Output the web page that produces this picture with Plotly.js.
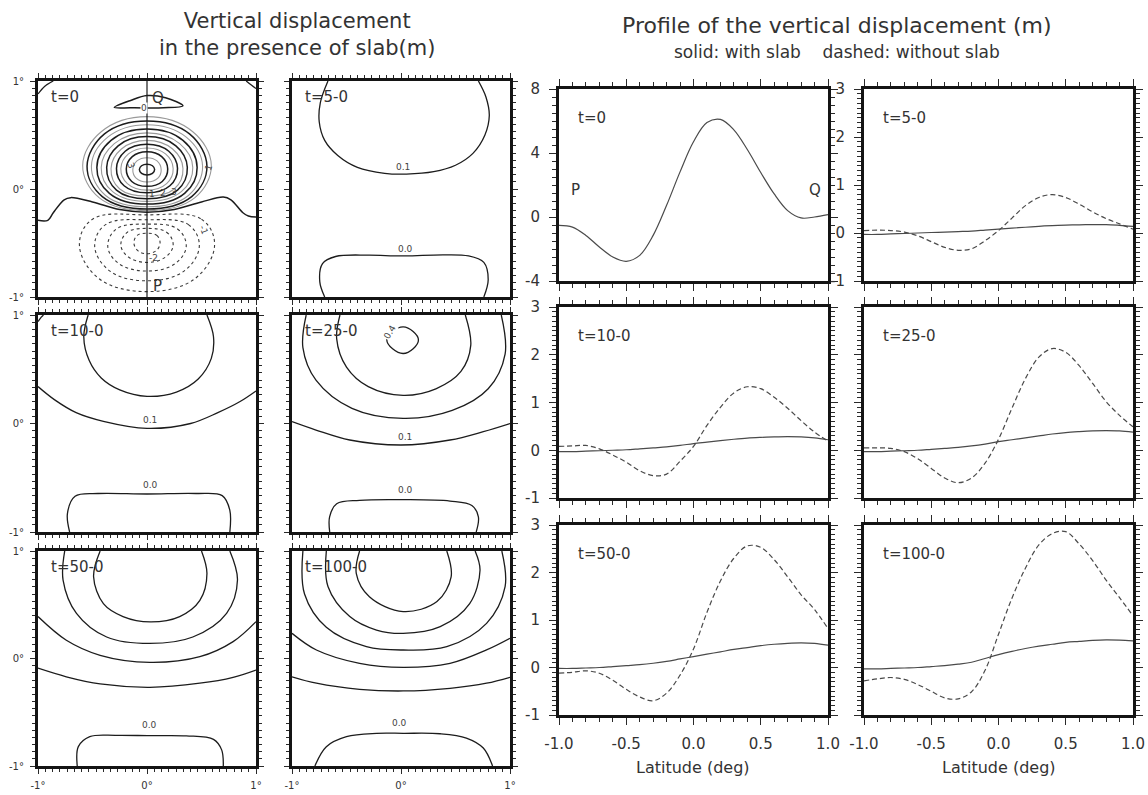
<!DOCTYPE html>
<html>
<head>
<meta charset="utf-8">
<script src="https://cdn.plot.ly/plotly-3.0.1.min.js"></script>
<style>
  html, body { margin: 0; padding: 0; background: #fff; }
  #chart { width: 1148px; height: 795px; }
</style>
</head>
<body>
<div id="chart"></div>
<script>
// ---------------------------------------------------------------
// Profiles along the P-Q line (latitude in degrees, displacement in m)
// ---------------------------------------------------------------
const latitude = [-1.0,-0.9,-0.8,-0.7,-0.6,-0.5,-0.4,-0.3,-0.2,-0.1,0.0,0.1,0.2,0.3,0.4,0.5,0.6,0.7,0.8,0.9,1.0];

const profileT0 = [-0.52,-0.63,-1.15,-1.88,-2.5,-2.77,-2.4,-1.15,0.73,2.82,4.7,5.9,6.1,5.45,4.22,2.78,1.44,0.4,-0.06,0.0,0.15];

const slabT5    = [-0.03,-0.03,-0.02,-0.01,0.0,0.01,0.02,0.03,0.04,0.06,0.08,0.1,0.12,0.14,0.155,0.165,0.17,0.175,0.175,0.16,0.14];
const noSlabT5  = [0.05,0.06,0.05,0.02,-0.06,-0.18,-0.3,-0.36,-0.33,-0.16,0.05,0.31,0.57,0.74,0.8,0.74,0.6,0.44,0.3,0.19,0.08];

const slabT10   = [-0.03,-0.03,-0.02,-0.01,0.0,0.01,0.03,0.05,0.07,0.1,0.14,0.17,0.2,0.23,0.255,0.27,0.28,0.285,0.28,0.26,0.22];
const noSlabT10 = [0.08,0.09,0.1,0.03,-0.1,-0.25,-0.43,-0.53,-0.5,-0.23,0.08,0.52,0.9,1.2,1.33,1.29,1.11,0.88,0.62,0.38,0.19];

const slabT25   = [-0.03,-0.03,-0.02,-0.01,0.0,0.02,0.04,0.06,0.09,0.13,0.18,0.22,0.26,0.3,0.34,0.37,0.39,0.405,0.41,0.405,0.38];
const noSlabT25 = [0.05,0.05,0.04,-0.03,-0.18,-0.38,-0.58,-0.68,-0.58,-0.27,0.23,0.88,1.5,1.95,2.13,2.05,1.77,1.4,1.02,0.73,0.49];

const slabT50   = [-0.02,-0.02,-0.01,0.0,0.02,0.04,0.06,0.09,0.13,0.18,0.23,0.28,0.33,0.38,0.42,0.46,0.49,0.51,0.52,0.51,0.47];
const noSlabT50 = [-0.12,-0.1,-0.07,-0.12,-0.27,-0.46,-0.62,-0.7,-0.54,-0.16,0.39,1.16,1.82,2.3,2.56,2.53,2.27,1.91,1.53,1.22,0.82];

const slabT100   = [-0.03,-0.03,-0.02,-0.01,0.0,0.02,0.04,0.07,0.11,0.19,0.27,0.34,0.4,0.45,0.49,0.53,0.55,0.57,0.58,0.575,0.56];
const noSlabT100 = [-0.28,-0.24,-0.21,-0.25,-0.36,-0.5,-0.64,-0.66,-0.51,-0.06,0.7,1.46,2.09,2.58,2.82,2.86,2.6,2.25,1.84,1.47,1.09];

// ---------------------------------------------------------------
// Contour lines of the map panels, as (x, y) points in degrees
// ---------------------------------------------------------------
// t=0: closed positive contours (right half, top to bottom; the field is symmetric about x=0)
const upliftLevels = [0.5,1,1.5,2,2.5,3,3.5,4,4.5,5,5.5,6];
const upliftHalves = [
  [[0,0.67],[0.42,0.53],[0.59,0.22],[0.44,-0.08],[0,-0.2]],
  [[0,0.63],[0.39,0.51],[0.55,0.21],[0.41,-0.07],[0,-0.185]],
  [[0,0.595],[0.36,0.48],[0.51,0.21],[0.38,-0.06],[0,-0.165]],
  [[0,0.555],[0.33,0.45],[0.46,0.2],[0.345,-0.04],[0,-0.14]],
  [[0,0.52],[0.3,0.42],[0.42,0.2],[0.315,-0.025],[0,-0.115]],
  [[0,0.485],[0.265,0.4],[0.37,0.2],[0.28,-0.01],[0,-0.09]],
  [[0,0.45],[0.235,0.37],[0.33,0.19],[0.25,0.0],[0,-0.065]],
  [[0,0.415],[0.2,0.35],[0.28,0.19],[0.21,0.03],[0,-0.035]],
  [[0,0.38],[0.17,0.325],[0.24,0.19],[0.18,0.05],[0,-0.01]],
  [[0,0.345],[0.135,0.3],[0.19,0.185],[0.14,0.07],[0,0.025]],
  [[0,0.29],[0.092,0.26],[0.13,0.18],[0.1,0.1],[0,0.065]],
  [[0,0.23],[0.05,0.215],[0.07,0.18],[0.05,0.145],[0,0.13]]
];
// t=0: closed negative contours
const subsidenceLevels = [-0.5,-1,-1.5,-2,-2.5];
const subsidenceHalves = [
  [[0,-0.24],[0.5,-0.28],[0.62,-0.52],[0.44,-0.83],[0,-0.95]],
  [[0,-0.285],[0.38,-0.33],[0.48,-0.53],[0.34,-0.76],[0,-0.85]],
  [[0,-0.325],[0.28,-0.37],[0.36,-0.53],[0.26,-0.69],[0,-0.76]],
  [[0,-0.365],[0.18,-0.4],[0.24,-0.52],[0.17,-0.63],[0,-0.68]],
  [[0,-0.41],[0.09,-0.43],[0.12,-0.5],[0.085,-0.57],[0,-0.6]]
];
const t0Zero = [[-1,-0.29],[-0.91,-0.29],[-0.86,-0.22],[-0.76,-0.1],[-0.7,-0.08],[-0.5,-0.12],[-0.25,-0.19],[0,-0.215],[0.25,-0.19],[0.5,-0.12],[0.7,-0.075],[0.77,-0.1],[0.88,-0.22],[0.93,-0.25],[1,-0.26]];
const t0ZeroNorth = [[-0.3,0.755],[-0.15,0.82],[0,0.865],[0.17,0.845],[0.33,0.77],[0.15,0.752],[0,0.75],[-0.15,0.752],[-0.3,0.755]];
const t0CornerWest = [[-1,0.88],[-0.94,0.95],[-0.86,1]];
const t0CornerEast = [[0.91,1],[0.96,0.96],[1,0.93]];
const profileLine = [[0,-1],[0,1]];

const t5Level01 = [[-0.67,1.0],[-0.74,0.8],[-0.75,0.62],[-0.7,0.45],[-0.58,0.31],[-0.4,0.2],[-0.15,0.145],[0.05,0.138],[0.3,0.16],[0.5,0.22],[0.66,0.33],[0.77,0.5],[0.81,0.68],[0.78,0.85],[0.71,1.0]];
const t5Level00 = [[-0.7,-1],[-0.745,-0.86],[-0.72,-0.69],[-0.6,-0.625],[-0.3,-0.612],[0.0,-0.62],[0.3,-0.612],[0.62,-0.62],[0.76,-0.68],[0.8,-0.84],[0.76,-1]];

const t10Level02 = [[-0.54,1],[-0.58,0.8],[-0.53,0.58],[-0.42,0.42],[-0.25,0.31],[0.0,0.25],[0.27,0.29],[0.47,0.41],[0.59,0.6],[0.61,0.8],[0.55,1]];
const t10Level01 = [[-1,0.34],[-0.85,0.22],[-0.65,0.1],[-0.4,0.02],[0,-0.045],[0.4,0.0],[0.65,0.1],[0.85,0.2],[1,0.3]];
const t10Level00 = [[-0.71,-1],[-0.73,-0.83],[-0.66,-0.67],[-0.45,-0.645],[0.0,-0.65],[0.45,-0.645],[0.69,-0.665],[0.76,-0.8],[0.76,-1]];
const t10Corner  = [[-1,0.94],[-0.97,0.98],[-0.95,1]];

const t25Level04 = [[0.02,0.89],[0.16,0.77],[0.02,0.645],[-0.13,0.77],[0.02,0.89]];
const t25Level03 = [[-0.56,1],[-0.59,0.78],[-0.5,0.52],[-0.3,0.34],[0.02,0.26],[0.32,0.32],[0.55,0.48],[0.64,0.72],[0.59,1]];
const t25Level02 = [[-0.87,1],[-0.9,0.7],[-0.78,0.4],[-0.45,0.14],[0.02,0.047],[0.47,0.12],[0.8,0.32],[0.955,0.64],[0.92,1]];
const t25Level01 = [[-1,0.017],[-0.78,-0.06],[-0.47,-0.152],[0,-0.198],[0.45,-0.152],[0.755,-0.075],[1,0.0]];
const t25Level00 = [[-0.654,-1],[-0.655,-0.86],[-0.59,-0.74],[-0.38,-0.708],[0.02,-0.702],[0.45,-0.715],[0.65,-0.755],[0.71,-0.86],[0.69,-1]];

const t50Level04 = [[-0.43,1],[-0.49,0.76],[-0.4,0.51],[-0.22,0.39],[0.03,0.34],[0.3,0.39],[0.485,0.54],[0.55,0.79],[0.5,1]];
const t50Level03 = [[-0.755,1],[-0.77,0.73],[-0.647,0.42],[-0.37,0.2],[0.026,0.14],[0.42,0.2],[0.73,0.42],[0.83,0.73],[0.76,1]];
const t50Level02 = [[-1,0.39],[-0.74,0.17],[-0.43,0.03],[0.026,-0.036],[0.485,0.017],[0.79,0.157],[1,0.343]];
const t50Level01 = [[-1,-0.09],[-0.74,-0.17],[-0.43,-0.237],[0.026,-0.268],[0.485,-0.23],[0.79,-0.175],[1,-0.107]];
const t50Level00 = [[-0.64,-1],[-0.63,-0.82],[-0.525,-0.727],[-0.28,-0.715],[0.026,-0.718],[0.36,-0.72],[0.61,-0.752],[0.685,-0.85],[0.7,-1]];

const t100Level05 = [[-0.38,1],[-0.41,0.79],[-0.29,0.575],[0.02,0.436],[0.33,0.53],[0.46,0.76],[0.42,1]];
const t100Level04 = [[-0.685,1],[-0.67,0.67],[-0.47,0.39],[-0.225,0.265],[0.02,0.234],[0.36,0.296],[0.63,0.51],[0.725,0.82],[0.68,1]];
const t100Level03 = [[-0.9,1],[-0.885,0.6],[-0.685,0.29],[-0.317,0.11],[0.02,0.079],[0.42,0.11],[0.785,0.327],[0.955,0.668],[0.925,1]];
const t100Level02 = [[-1,0.234],[-0.776,0.079],[-0.38,-0.045],[0.02,-0.082],[0.45,-0.045],[0.785,0.08],[1,0.188]];
const t100Level01 = [[-1,-0.17],[-0.776,-0.23],[-0.38,-0.287],[0.02,-0.302],[0.45,-0.277],[0.785,-0.23],[1,-0.175]];
const t100Level00 = [[-0.79,-1],[-0.685,-0.82],[-0.5,-0.727],[-0.225,-0.696],[0.02,-0.696],[0.36,-0.7],[0.6,-0.74],[0.755,-0.833],[0.84,-1]];

// Panel captions and tick labels
const panelNames = ['t=0','t=5-0','t=10-0','t=25-0','t=50-0','t=100-0'];
const degTickVals = [-1, 0, 1];
const degTickText = ['-1°', '0°', '1°'];
const latTickVals = [-1, -0.5, 0, 0.5, 1];
const latTickText = ['-1.0', '-0.5', '0.0', '0.5', '1.0'];
const dispTickVals = [-1, 0, 1, 2, 3];
const dispTickText = ['-1', '0', '1', '2', '3'];
const t0TickVals = [-4, 0, 4, 8];
const t0TickText = ['-4', '0', '4', '8'];

// ---------------------------------------------------------------
// Page geometry (pixels) and styling
// ---------------------------------------------------------------
const W = 1148, H = 795;
const FONT = '"DejaVu Sans", "Noto Sans", sans-serif';
const INK = '#333';
const FRAME = '#141414';

// [left, right, top, bottom]
const mapBoxes = [
  [38, 256, 81, 297], [292, 510, 81, 297],
  [38, 256, 315, 532], [292, 510, 315, 532],
  [38, 256, 551, 766], [292, 510, 551, 766]
];
const profileBoxes = [
  [559, 828, 89, 281], [864, 1133, 89, 281],
  [559, 828, 307, 498], [864, 1133, 307, 498],
  [559, 828, 525, 715], [864, 1133, 525, 715]
];

const sfx = n => (n === 1 ? '' : String(n));
const xs = pts => pts.map(p => p[0]);
const ys = pts => pts.map(p => p[1]);

const traces = [];
const annotations = [];
const layout = {
  width: W, height: H,
  margin: { l: 0, r: 0, t: 0, b: 0 },
  paper_bgcolor: '#ffffff', plot_bgcolor: '#ffffff',
  showlegend: false,
  font: { family: FONT, color: INK },
  annotations: annotations
};

function frameAxis(extra) {
  return Object.assign({
    showline: true, linewidth: 3, linecolor: FRAME, mirror: 'allticks',
    ticks: 'outside', tickwidth: 1, tickcolor: '#2a2a2a',
    showgrid: false, zeroline: false, fixedrange: true, tickmode: 'array'
  }, extra);
}

// Map panels: axes 1..6
mapBoxes.forEach((b, i) => {
  const n = i + 1, col = i % 2, row = Math.floor(i / 2);
  const minor = { tickmode: 'linear', tick0: -1, dtick: 1 / 15, ticklen: 3, tickwidth: 1, tickcolor: '#2a2a2a', ticks: 'outside' };
  layout['xaxis' + sfx(n)] = frameAxis({
    domain: [b[0] / W, b[1] / W], range: [-1, 1], anchor: 'y' + sfx(n),
    tickvals: degTickVals, ticktext: degTickText, ticklen: 5, minor: minor,
    showticklabels: row === 2, tickfont: { family: FONT, size: 10, color: INK },
    ticklabelstandoff: 3
  });
  layout['yaxis' + sfx(n)] = frameAxis({
    domain: [1 - b[3] / H, 1 - b[2] / H], range: [-1, 1], anchor: 'x' + sfx(n),
    tickvals: degTickVals, ticktext: degTickText, ticklen: 5, minor: minor,
    showticklabels: col === 0, tickfont: { family: FONT, size: 10, color: INK },
    ticklabelstandoff: 4
  });
});

// Profile panels: axes 7..12
profileBoxes.forEach((b, i) => {
  const n = i + 7, col = i % 2, row = Math.floor(i / 2);
  layout['xaxis' + n] = frameAxis({
    domain: [b[0] / W, b[1] / W], range: [-1, 1], anchor: 'y' + n,
    tickvals: latTickVals, ticktext: latTickText, ticklen: 7,
    minor: { tickmode: 'linear', tick0: -1, dtick: 0.1, ticklen: 4, tickwidth: 1, tickcolor: '#2a2a2a', ticks: 'outside' },
    showticklabels: row === 2, tickfont: { family: FONT, size: 15, color: INK },
    ticklabelstandoff: 6
  });
  const first = i === 0;
  layout['yaxis' + n] = frameAxis({
    domain: [1 - b[3] / H, 1 - b[2] / H], range: first ? [-4, 8] : [-1, 3], anchor: 'x' + n,
    tickvals: first ? t0TickVals : dispTickVals, ticktext: first ? t0TickText : dispTickText, ticklen: 7,
    minor: { tickmode: 'linear', tick0: first ? -4 : -1, dtick: first ? 0.5 : 0.1, ticklen: 4, tickwidth: 1, tickcolor: '#2a2a2a', ticks: 'outside' },
    showticklabels: col === 0 || i === 1, tickfont: { family: FONT, size: 15, color: INK },
    ticklabelstandoff: 6
  });
});

// ---------------------------------------------------------------
// Helpers for the map contours
// ---------------------------------------------------------------
function addLine(n, pts, style) {
  traces.push({
    type: 'scatter', mode: 'lines', x: xs(pts), y: ys(pts),
    xaxis: 'x' + sfx(n), yaxis: 'y' + sfx(n), hoverinfo: 'skip',
    line: Object.assign({ color: '#1c1c1c', width: 1.3, shape: 'spline', smoothing: 1 }, style || {})
  });
}
// close a symmetric contour from its right half (top -> bottom)
function closeRing(half) {
  const left = half.slice(1, -1).reverse().map(p => [-p[0], p[1]]);
  return half.concat(left, [half[0]]);
}
function contourLabel(n, x, y, text, extra) {
  annotations.push(Object.assign({
    xref: 'x' + sfx(n), yref: 'y' + sfx(n), x: x, y: y, text: text,
    showarrow: false, font: { family: FONT, size: 9, color: '#444' }
  }, extra || {}));
}

// --- t=0 map ---
upliftHalves.forEach((half, k) => {
  const whole = Number.isInteger(upliftLevels[k]);
  addLine(1, closeRing(half), whole ? { color: '#1c1c1c', width: 1.5, smoothing: 1.1 }
                                    : { color: '#9a9a9a', width: 1.1, smoothing: 1.1 });
});
subsidenceHalves.forEach(half => {
  addLine(1, closeRing(half), { color: '#3a3a3a', width: 1.1, dash: '3px,3px', smoothing: 1.1 });
});
addLine(1, t0Zero, { width: 1.5 });
addLine(1, t0ZeroNorth, { width: 1.5 });
addLine(1, t0CornerWest, { width: 1.3 });
addLine(1, t0CornerEast, { width: 1.3 });
addLine(1, profileLine, { width: 1.2, shape: 'linear' });

contourLabel(1, -0.03, 0.75, '0', { bgcolor: '#fff', borderpad: 0 });
contourLabel(1, 0.57, 0.2, '1', { textangle: -70 });
contourLabel(1, -0.15, 0.22, '3', { textangle: 70 });
contourLabel(1, 0.05, -0.05, '1', {});
contourLabel(1, 0.15, -0.04, '2', {});
contourLabel(1, 0.25, -0.03, '3', {});
contourLabel(1, 0.52, -0.38, '-1', { textangle: 70 });
contourLabel(1, 0.06, -0.64, '-2', {});
annotations.push({ xref: 'x', yref: 'y', x: 0.1, y: 0.84, text: 'Q', showarrow: false,
  font: { family: FONT, size: 15, color: INK } });
annotations.push({ xref: 'x', yref: 'y', x: 0.1, y: -0.9, text: 'P', showarrow: false,
  font: { family: FONT, size: 15, color: INK } });

// --- t=5-0 map ---
addLine(2, t5Level01); addLine(2, t5Level00);
contourLabel(2, 0.02, 0.2, '0.1'); contourLabel(2, 0.04, -0.56, '0.0');

// --- t=10-0 map ---
addLine(3, t10Level02); addLine(3, t10Level01); addLine(3, t10Level00); addLine(3, t10Corner);
contourLabel(3, 0.03, 0.03, '0.1'); contourLabel(3, 0.03, -0.57, '0.0');

// --- t=25-0 map ---
addLine(4, t25Level04, { smoothing: 1.2 }); addLine(4, t25Level03); addLine(4, t25Level02);
addLine(4, t25Level01); addLine(4, t25Level00);
contourLabel(4, -0.1, 0.84, '0.4', { textangle: -60, bgcolor: '#fff', borderpad: 0 });
contourLabel(4, 0.04, -0.12, '0.1'); contourLabel(4, 0.04, -0.61, '0.0');

// --- t=50-0 map ---
addLine(5, t50Level04); addLine(5, t50Level03); addLine(5, t50Level02);
addLine(5, t50Level01); addLine(5, t50Level00);
contourLabel(5, 0.02, -0.62, '0.0');

// --- t=100-0 map ---
addLine(6, t100Level05); addLine(6, t100Level04); addLine(6, t100Level03);
addLine(6, t100Level02); addLine(6, t100Level01); addLine(6, t100Level00);
contourLabel(6, -0.01, -0.6, '0.0');

// ---------------------------------------------------------------
// Profile curves
// ---------------------------------------------------------------
function addProfile(n, values, dashed) {
  traces.push({
    type: 'scatter', mode: 'lines', x: latitude, y: values,
    xaxis: 'x' + n, yaxis: 'y' + n, hoverinfo: 'skip',
    line: dashed ? { color: '#4a4a4a', width: 1.2, dash: '5px,3px', shape: 'spline', smoothing: 1 }
                 : { color: '#4a4a4a', width: 1.2, shape: 'spline', smoothing: 1 }
  });
}
addProfile(7, profileT0, false);
addProfile(8, slabT5, false);   addProfile(8, noSlabT5, true);
addProfile(9, slabT10, false);  addProfile(9, noSlabT10, true);
addProfile(10, slabT25, false); addProfile(10, noSlabT25, true);
addProfile(11, slabT50, false); addProfile(11, noSlabT50, true);
addProfile(12, slabT100, false); addProfile(12, noSlabT100, true);

annotations.push({ xref: 'x7', yref: 'y7', x: -0.88, y: 1.7, text: 'P', showarrow: false,
  font: { family: FONT, size: 15, color: INK } });
annotations.push({ xref: 'x7', yref: 'y7', x: 0.9, y: 1.7, text: 'Q', showarrow: false,
  font: { family: FONT, size: 15, color: INK } });

// Panel captions
panelNames.forEach((name, i) => {
  const m = i + 1;
  annotations.push({ xref: 'x' + sfx(m) + ' domain', yref: 'y' + sfx(m) + ' domain',
    x: 0.05, y: 0.925, xanchor: 'left', yanchor: 'middle', text: name, showarrow: false,
    font: { family: FONT, size: 15, color: INK } });
  const p = i + 7;
  annotations.push({ xref: 'x' + p + ' domain', yref: 'y' + p + ' domain',
    x: 0.065, y: 0.85, xanchor: 'left', yanchor: 'middle', text: name, showarrow: false,
    font: { family: FONT, size: 15, color: INK } });
});

// Headings
function heading(px, py, text, size) {
  annotations.push({ xref: 'paper', yref: 'paper', x: px / W, y: 1 - py / H,
    xanchor: 'center', yanchor: 'middle', text: text, showarrow: false,
    font: { family: FONT, size: size, color: INK } });
}
heading(297, 35, 'Vertical displacement<br>in the presence of slab(m)', 21);
heading(837, 26, 'Profile of the vertical displacement (m)', 22);
heading(837, 52, 'solid: with slab&nbsp;&nbsp;&nbsp;&nbsp;dashed: without slab', 17);
heading((559 + 828) / 2, 767, 'Latitude (deg)', 16);
heading((864 + 1133) / 2, 767, 'Latitude (deg)', 16);

Plotly.newPlot('chart', traces, layout, { staticPlot: true, displayModeBar: false });
</script>
</body>
</html>
